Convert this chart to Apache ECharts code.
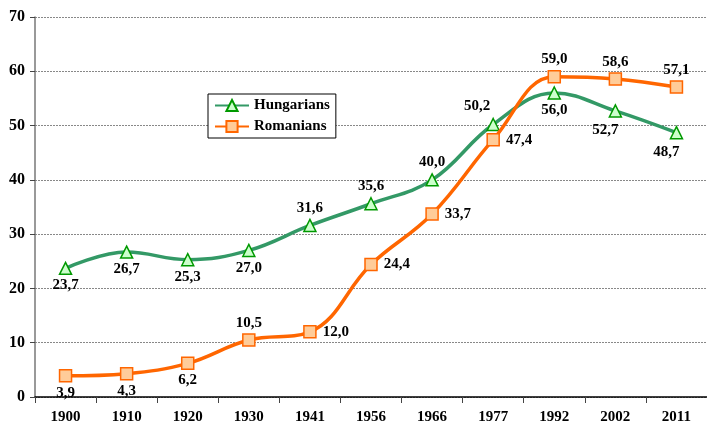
<!DOCTYPE html>
<html>
<head>
<meta charset="utf-8">
<script src="https://cdn.jsdelivr.net/npm/echarts@6/dist/echarts.min.js"></script>
<style>
  html, body { margin: 0; padding: 0; background: #fff; }
  #main { width: 707px; height: 425px; }
</style>
</head>
<body>
<div id="main"></div>
<script>
// data
var years = ['1900', '1910', '1920', '1930', '1941', '1956', '1966', '1977', '1992', '2002', '2011'];
var hungarians = [23.7, 26.7, 25.3, 27.0, 31.6, 35.6, 40.0, 50.2, 56.0, 52.7, 48.7];
var romanians = [3.9, 4.3, 6.2, 10.5, 12.0, 24.4, 33.7, 47.4, 59.0, 58.6, 57.1];

// where each value label sits
var huLabelPos = ['bottom', 'bottom', 'bottom', 'bottom', 'top', 'top', 'top', 'topLeft', 'bottom', 'bottomLeft', 'bottomLeft'];
var roLabelPos = ['bottom', 'bottom', 'bottom', 'top', 'right', 'right', 'right', 'right', 'top', 'top', 'top'];

var font = '"Liberation Serif", "Times New Roman", serif';

function fmt(v) {
  return v.toFixed(1).replace('.', ',');
}

function labelFor(pos) {
  var lab = { show: true, position: pos, distance: 3 };
  if (pos === 'topLeft') {
    lab.position = 'top';
    lab.offset = [-16, -1];
  } else if (pos === 'bottomLeft') {
    lab.position = 'bottom';
    lab.offset = [-10, 2];
  } else if (pos === 'right') {
    lab.distance = 6;
  }
  return lab;
}

function buildData(values, positions) {
  var out = [];
  for (var i = 0; i < values.length; i++) {
    out.push({ value: values[i], label: labelFor(positions[i]) });
  }
  return out;
}

var chart = echarts.init(document.getElementById('main'));

var option = {
  animation: false,
  backgroundColor: '#fff',
  textStyle: { fontFamily: font },
  grid: { left: 35, top: 17, width: 678, height: 380 },
  legend: {
    orient: 'vertical',
    left: 208,
    top: 94,
    itemGap: 6,
    itemWidth: 34,
    itemHeight: 14,
    padding: [4, 6, 4, 6],
    borderColor: '#000',
    borderWidth: 1,
    backgroundColor: '#fff',
    textStyle: { fontFamily: font, fontWeight: 'bold', fontSize: 15, color: '#000' },
    data: ['Hungarians', 'Romanians']
  },
  xAxis: {
    type: 'category',
    data: years,
    boundaryGap: true,
    axisLine: { lineStyle: { color: '#000', width: 1.5 } },
    axisTick: { show: true, length: 6, lineStyle: { color: '#444' } },
    axisLabel: { fontFamily: font, fontWeight: 'bold', fontSize: 15, color: '#000', margin: 13 }
  },
  yAxis: {
    type: 'value',
    min: 0,
    max: 70,
    interval: 10,
    axisLine: { show: true, lineStyle: { color: '#777', width: 1.5 } },
    axisTick: { show: true, length: 5, lineStyle: { color: '#444' } },
    axisLabel: { fontFamily: font, fontWeight: 'bold', fontSize: 16, color: '#000', margin: 10 },
    splitLine: { lineStyle: { color: '#888', type: [2, 1], width: 1 } }
  },
  series: [{
    name: 'Hungarians',
    type: 'line',
    smooth: 0.4,
    symbol: 'triangle',
    symbolSize: 12,
    data: buildData(hungarians, huLabelPos),
    lineStyle: { color: '#339966', width: 3.5 },
    itemStyle: { color: '#ccffcc', borderColor: '#009900', borderWidth: 1.5 },
    label: {
      formatter: function (p) { return fmt(p.value); },
      fontFamily: font, fontWeight: 'bold', fontSize: 15, color: '#000'
    },
    z: 3
  }, {
    name: 'Romanians',
    type: 'line',
    smooth: 0.4,
    symbol: 'rect',
    symbolSize: 12,
    data: buildData(romanians, roLabelPos),
    lineStyle: { color: '#ff6600', width: 3.5 },
    itemStyle: { color: '#ffcc99', borderColor: '#ff6600', borderWidth: 1.5 },
    label: {
      formatter: function (p) { return fmt(p.value); },
      fontFamily: font, fontWeight: 'bold', fontSize: 15, color: '#000'
    },
    z: 4
  }]
};

chart.setOption(option);
</script>
</body>
</html>
